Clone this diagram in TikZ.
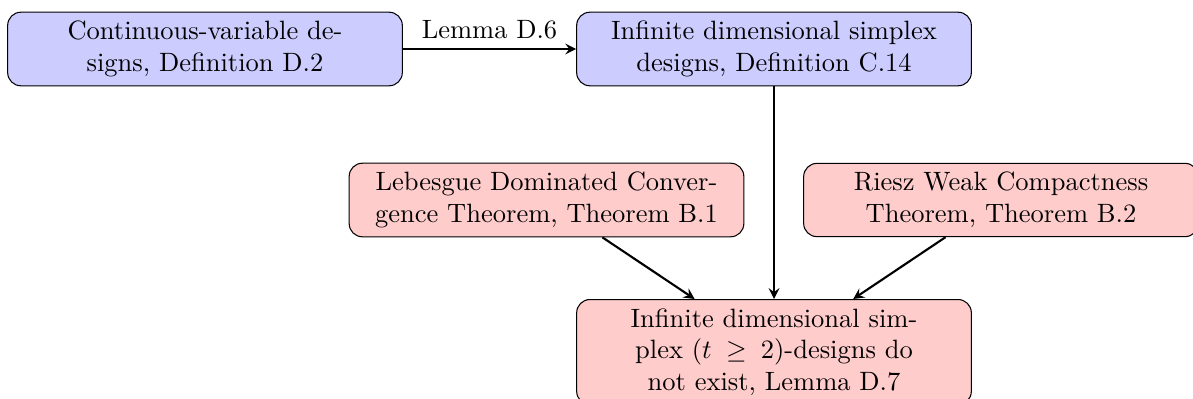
\documentclass[tikz,border=0pt]{standalone}
\usetikzlibrary{arrows}
\tikzset{
  box/.style={draw, rounded corners=5pt, text width=5cm, align=center},
  bluebox/.style={box, fill=blue!20},
  redbox/.style={box, fill=red!20},
  conn/.style={-stealth, thick}
}
\begin{document}
\begin{tikzpicture}[x=0.37736pt, y=-0.37736pt]
\useasboundingbox (0,0) rectangle (1193,398);
\node[bluebox] (A) at (205,49) {Continuous-variable designs, Definition D.2};
\node[bluebox] (B) at (774,49) {Infinite dimensional simplex designs, Definition C.14};
\node[redbox] (C) at (546.5,200) {Lebesgue Dominated Convergence Theorem, Theorem B.1};
\node[redbox] (D) at (1001,200) {Riesz Weak Compactness Theorem, Theorem B.2};
\node[redbox, anchor=north] (E) at (774,299) {Infinite dimensional simplex ($t \geq 2$)-designs do not exist, Lemma D.7};
\draw[conn] (A) -- node[above] {Lemma D.6} (B);
\draw[conn] (B) -- (E);
\draw[conn] (C) -- (E);
\draw[conn] (D) -- (E);
\end{tikzpicture}
\end{document}
